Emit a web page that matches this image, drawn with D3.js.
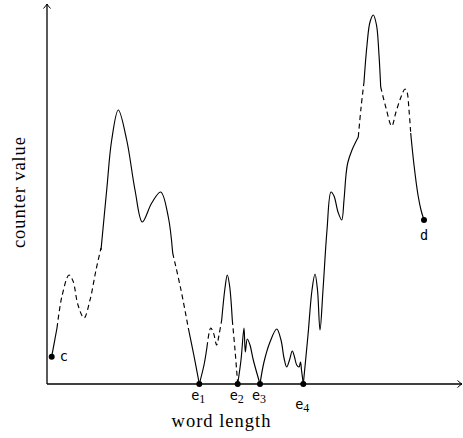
<!DOCTYPE html>
<html>
<head>
<meta charset="utf-8">
<script src="https://cdn.jsdelivr.net/npm/d3@7"></script>
<style>
  body { margin: 0; background: #fff; }
  svg { display: block; }
</style>
</head>
<body>
<svg id="chart" width="463" height="438"></svg>
<script>
// curve pieces (word length, counter value), drawn one by one
const segWordLength = [
  [4.7, 10],
  [10, 15, 22, 26, 31, 37, 43, 49, 54],
  [54, 59.7, 64.7, 71.3, 79.7, 88, 95.3, 104.7, 113.7, 121.3, 125.7],
  [125.7, 134, 141.3],
  [141.3, 147, 152.3],
  [152.3, 157, 160],
  [160, 163.7, 166.5, 169.7, 172, 174.7],
  [174.7, 178, 180.3, 182.5, 185.3],
  [185.3, 188, 190.7],
  [190.7, 194, 197, 198.3, 200.3, 203, 206.3, 213],
  [213, 217, 223, 229.7, 234, 237, 239.7, 242.5, 245.3, 247.5, 249.7, 252, 253.5, 254.5, 256.3],
  [256.3, 261, 265, 268, 270.5, 273, 276, 280, 284, 287, 291, 294.7, 297, 299, 300.7, 305, 311.3],
  [311.3, 314, 317],
  [317, 320, 323, 326.3, 329.5, 332, 333.7],
  [333.7, 339, 344.7, 349, 354, 358, 360, 362, 363.7],
  [363.7, 367, 371, 374, 377]
];
const segCounterValue = [
  [27.3, 56],
  [56, 88, 109, 103, 79, 66, 84, 114, 136],
  [134, 194, 244, 274, 244, 194, 162, 181, 192, 167, 131],
  [131, 94, 56],
  [56, 28, 0],
  [0, 19, 37],
  [37, 56, 51, 39, 49, 64],
  [64, 96, 109, 99, 64],
  [64, 34, 0],
  [0, 24, 56, 32, 45, 39, 24, 0],
  [0, 22, 42, 55, 44, 26, 17, 24, 33, 27, 19, 17, 22, 14, 0],
  [0, 49, 94, 110, 94, 54, 94, 154, 192, 188, 172, 164, 184, 209, 221, 234, 247],
  [247, 276, 302],
  [302, 339, 362, 369, 359, 329, 297],
  [297, 276, 258, 272, 287, 295, 292, 274, 251],
  [251, 219, 189, 174, 164]
];
const segDashed = [false, true, false, true, false, false, true, false, true, false, false, false, true, false, true, false];

// marked points
const pointName = ["c", "d", "e", "e", "e", "e"];
const pointSub = ["", "", "1", "2", "3", "4"];
const pointWordLength = [4.7, 377, 152.3, 190.7, 213, 256.3];
const pointCounterValue = [27.3, 164, 0, 0, 0, 0];

const svg = d3.select("#chart");
const x = d3.scaleLinear().domain([0, 416]).range([47, 463]);
const y = d3.scaleLinear().domain([0, 381]).range([384, 3]);

// arrow tip like tikz ->
svg.append("defs").append("marker")
  .attr("id", "tip")
  .attr("viewBox", "-6 -5 8 10")
  .attr("refX", 0).attr("refY", 0)
  .attr("markerWidth", 8).attr("markerHeight", 10)
  .attr("markerUnits", "userSpaceOnUse")
  .attr("orient", "auto")
  .append("path")
  .attr("d", "M-4.5,-3.5 Q-1.5,-0.8 0,0 Q-1.5,0.8 -4.5,3.5")
  .attr("fill", "none").attr("stroke", "#000").attr("stroke-width", 1);

// axes without ticks
const xAxis = svg.append("g").attr("transform", `translate(0,${y(0)})`)
  .call(d3.axisBottom(x).tickValues([]).tickSizeOuter(0));
const yAxis = svg.append("g").attr("transform", `translate(${x(0)},0)`)
  .call(d3.axisLeft(y).tickValues([]).tickSizeOuter(0));
svg.selectAll(".domain").attr("stroke", "#000").attr("stroke-width", 1.3);
xAxis.select(".domain").attr("d", `M${x(0)},0H${x(415)}`).attr("marker-end", "url(#tip)");
yAxis.select(".domain").attr("d", `M0,${y(0)}V${y(380)}`).attr("marker-end", "url(#tip)");

const line = d3.line()
  .x(d => x(d[0]))
  .y(d => y(d[1]))
  .curve(d3.curveCatmullRom.alpha(0.5));

segWordLength.forEach((xs, i) => {
  const pts = xs.map((v, j) => [v, segCounterValue[i][j]]);
  svg.append("path")
    .attr("d", line(pts))
    .attr("fill", "none")
    .attr("stroke", "#000")
    .attr("stroke-width", 1.15)
    .attr("stroke-dasharray", segDashed[i] ? "5,3.5" : null);
});

// dots and labels
pointName.forEach((n, i) => {
  const px = x(pointWordLength[i]), py = y(pointCounterValue[i]);
  svg.append("circle").attr("cx", px).attr("cy", py).attr("r", 3).attr("fill", "#000");
  const t = svg.append("text")
    .attr("font-family", "DejaVu Sans Mono")
    .attr("font-size", 13.5)
    .attr("fill", "#000");
  if (n === "c") {
    t.attr("x", px + 8).attr("y", py + 4).text("c");
  } else if (n === "d") {
    t.attr("x", px).attr("y", py + 20).attr("text-anchor", "middle").text("d");
  } else {
    const low = pointSub[i] === "4" ? 9 : 0;
    t.attr("x", px - 1).attr("y", py + 16 + low).attr("text-anchor", "middle");
    t.append("tspan").text(n);
    t.append("tspan")
      .attr("font-family", "Liberation Serif")
      .attr("font-size", 12)
      .attr("dy", 3)
      .text(pointSub[i]);
  }
});

// axis titles
svg.append("text")
  .attr("x", 221).attr("y", 427)
  .attr("text-anchor", "middle")
  .attr("font-family", "Liberation Serif")
  .attr("font-size", 18.5)
  .attr("textLength", 99)
  .text("word length");

svg.append("text")
  .attr("transform", "translate(24.5,192.5) rotate(-90)")
  .attr("text-anchor", "middle")
  .attr("font-family", "Liberation Serif")
  .attr("font-size", 18.5)
  .attr("textLength", 111)
  .text("counter value");
</script>
</body>
</html>
